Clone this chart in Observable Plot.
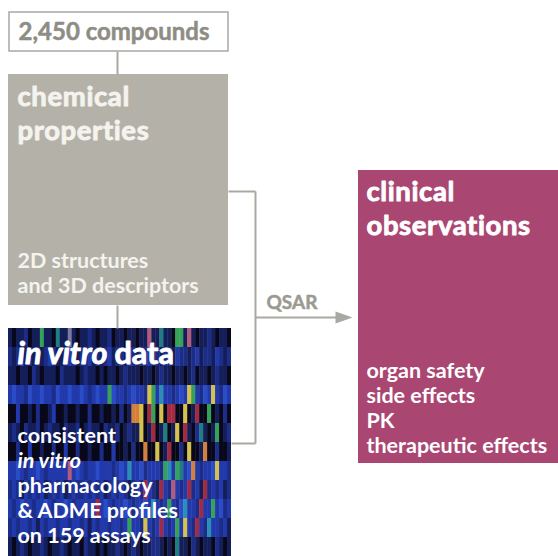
<!DOCTYPE html>
<html>
<head>
<meta charset="utf-8">
<script src="https://cdn.jsdelivr.net/npm/d3@7"></script>
<script src="https://cdn.jsdelivr.net/npm/@observablehq/plot@0.6"></script>
<style>
  html, body { margin: 0; padding: 0; background: #ffffff; }
  #chart svg { display: block; }
</style>
</head>
<body>
<div id="chart"></div>
<script>
// ---- content ----
const compoundsLabel = ["2,450 compounds"];
const chemTitle = ["chemical", "properties"];
const chemSub = ["2D structures", "and 3D descriptors"];
const vitroTitleItalic = ["in vitro"];
const vitroTitleRest = ["data"];
const vitroSub = ["consistent", "in vitro", "pharmacology", "& ADME profiles", "on 159 assays"];
const vitroSubItalic = [false, true, false, false, false];
const clinTitle = ["clinical", "observations"];
const clinSub = ["organ safety", "side effects", "PK", "therapeutic effects"];
const arrowLabel = ["QSAR"];

// heat-map texture of the in vitro panel (one letter per assay stripe)
const heatRows = [
  "nknndknn gnnktnnl nknndnkn ndknnknn knnpnntn nkggnpnk nndnknnk",
  "dndbndnd ndbdnndb dnddbndn dbnddnbd nddbndnd dnbddndb nddnbdnd",
  "nnknnkdn knnnkdnn nkndnnkn knnkndnn nknnkndn nknnkndk nnkndnnk",
  "bBbbdBbb BbbdBbbB bbBbdbBb bgBbbdbB bbdygbcb bdbBbygb dBbybdBb",
  "kkbkknkd kknbkknk knkkdkkn kknkdkno oykrgkyk rrkkyknr kkgknkdk",
  "ndnkdnnd kndnnkdn ndkndnnk dnndkndn nyknrknt knykrnkd tnkngknd",
  "kkdkkbkk nkkdkkbk kdkknkkd kkbkknkd kkokkykn rkkdkykk nokkdkkn",
  "bbBbdbbB bdbbbbbp bBbdbbBb bbdbBbcb bBdbbbdg cbgtbBob dbbBybbd",
  "dbdnbdbd bndbdbnd bddbdbdb ndbdbdnd bdrbdnrb dpbdbrdb nrdbdbnd",
  "bdbBbbdb bBbdbbBb dbbbbbrb BbdbbBbd bbBbcbdb gbdBcbbd rbbgbBdb",
  "dbdbbdbn bdbbdbbd bbdbnbdb bdbbdbgb bdybdbrb dbgbybdr bdcbbdbn",
  "nkndnknn dnknndnk nnkdnnkn knndnknd nknnddnk nktnnkdn knnkdnkn"
];
const heatColors = {
  k: "#08081a", n: "#141e58", d: "#1c2d88", b: "#2139aa", B: "#2a4cc6",
  c: "#2a8fb4", t: "#1f7d84", g: "#36a257", y: "#d6c24a", o: "#d4803a",
  r: "#a42a42", p: "#b65a7c", l: "#7c7aa0"
};

// ---- layout ----
const W = 558, H = 556;
const L = {
  comp: {x1: 9, x2: 228, y1: 12, y2: 51},
  chem: {x1: 8, x2: 228, y1: 74, y2: 305},
  vitro: {x1: 8, x2: 231, y1: 328, y2: 556},
  clin: {x1: 358, x2: 558, y1: 170, y2: 463},
  trunkX: 117, bracketX: 255, bracketTop: 191, bracketBot: 443,
  arrowY: 317, arrowEnd: 352, headLen: 17, headHalf: 6
};
const textX = 17, clinX = 366, dataX = 114;
const gray = "#a9a8a1";
const stripeCols = 56;
const font = "Lato, 'Open Sans', sans-serif";
const titleSize = 27.5, titleStep = 33.2, subSize = 21.5, subStep = 25;

const boxes = [
  {...L.chem, fill: "#b4b1a9"},
  {...L.clin, fill: "#a94772"}
];

const cw = (L.vitro.x2 - L.vitro.x1) / stripeCols;
const rh = (L.vitro.y2 - L.vitro.y1) / heatRows.length;
const cells = heatRows.flatMap((s, r) => {
  const chars = [...s.replace(/ /g, "")].slice(0, stripeCols);
  return chars.map((c, i) => ({
    x1: L.vitro.x1 + i * cw, x2: Math.min(L.vitro.x2, L.vitro.x1 + (i + 1) * cw + 0.4),
    y1: L.vitro.y1 + r * rh, y2: Math.min(L.vitro.y2, L.vitro.y1 + (r + 1) * rh + 0.4),
    fill: heatColors[c] || heatColors.n
  }));
});

const links = [
  {x1: L.trunkX, y1: L.comp.y2, x2: L.trunkX, y2: L.chem.y1},
  {x1: L.trunkX, y1: L.chem.y2, x2: L.trunkX, y2: L.vitro.y1},
  {x1: L.chem.x2, y1: L.bracketTop, x2: L.bracketX, y2: L.bracketTop},
  {x1: L.bracketX, y1: L.bracketTop, x2: L.bracketX, y2: L.bracketBot},
  {x1: L.bracketX, y1: L.bracketBot, x2: L.vitro.x2, y2: L.bracketBot},
  {x1: L.bracketX, y1: L.arrowY, x2: L.arrowEnd - L.headLen + 2, y2: L.arrowY}
];
const head = [
  {x: L.arrowEnd - L.headLen, y: L.arrowY - L.headHalf},
  {x: L.arrowEnd, y: L.arrowY},
  {x: L.arrowEnd - L.headLen, y: L.arrowY + L.headHalf}
];

// a block of lines as one multi-line text, anchored at its last baseline
const block = (arr, x, lastBaseline) => [{t: arr.join("\n"), x, y: lastBaseline}];
const txt = (data, opts) => Plot.text(data, {x: "x", y: "y", text: "t", textAnchor: "start", lineAnchor: "bottom", ...opts});
const heavy = (fill) => ({fontWeight: "bold", fill, stroke: fill, strokeWidth: 0.9});

const vitroY0 = 442;
const vitroRuns = [
  {lines: vitroSub.slice(0, 1), italic: vitroSubItalic[0], last: vitroY0},
  {lines: vitroSub.slice(1, 2), italic: vitroSubItalic[1], last: vitroY0 + subStep},
  {lines: vitroSub.slice(2), italic: false, last: vitroY0 + 4 * subStep}
];

const chart = Plot.plot({
  width: W, height: H, margin: 0,
  x: {domain: [0, W], range: [0, W], axis: null},
  y: {domain: [0, H], range: [0, H], axis: null},
  style: {fontFamily: font, background: "#ffffff"},
  marks: [
    Plot.rect([L.comp], {x1: "x1", x2: "x2", y1: "y1", y2: "y2", fill: "white", stroke: gray, strokeWidth: 1.5}),
    Plot.rect(boxes, {x1: "x1", x2: "x2", y1: "y1", y2: "y2", fill: "fill"}),
    Plot.rect(cells, {x1: "x1", x2: "x2", y1: "y1", y2: "y2", fill: "fill"}),
    Plot.link(links, {x1: "x1", y1: "y1", x2: "x2", y2: "y2", stroke: gray, strokeWidth: 2}),
    Plot.line(head, {x: "x", y: "y", fill: gray, stroke: "none"}),
    // compounds
    txt(block(compoundsLabel, textX + 1, 39), {fontSize: 24, ...heavy("#8e8d85"), strokeWidth: 0.5}),
    // chemical properties
    txt(block(chemTitle, textX, 139), {fontSize: titleSize, lineHeight: titleStep / titleSize, ...heavy("#f4f3ee")}),
    txt(block(chemSub, textX, 292), {fontSize: subSize, lineHeight: subStep / subSize, fontWeight: "bold", fill: "#f4f3ee"}),
    // in vitro
    txt(block(vitroTitleItalic, textX, 363), {fontSize: 30.5, fontStyle: "italic", ...heavy("white")}),
    txt(block(vitroTitleRest, dataX, 363), {fontSize: 30.5, ...heavy("white")}),
    ...vitroRuns.map(run => txt(block(run.lines, textX, run.last), {
      fontSize: subSize, lineHeight: subStep / subSize, fontWeight: "bold",
      fontStyle: run.italic ? "italic" : "normal", fill: "white"})),
    // QSAR
    txt(block(arrowLabel, 266, 308), {fontSize: 19, ...heavy("#9b9a92"), strokeWidth: 0.5}),
    // clinical
    txt(block(clinTitle, clinX, 234), {fontSize: titleSize, lineHeight: titleStep / titleSize, ...heavy("white")}),
    txt(block(clinSub, clinX, 452), {fontSize: subSize, lineHeight: subStep / subSize, fontWeight: "bold", fill: "white"})
  ]
});
// widen the heavy headings slightly, like the reference's wide face
d3.select(chart).selectAll(`g[font-size="${titleSize}"]`).style("letter-spacing", "0.6px");
document.getElementById("chart").appendChild(chart);
</script>
</body>
</html>
